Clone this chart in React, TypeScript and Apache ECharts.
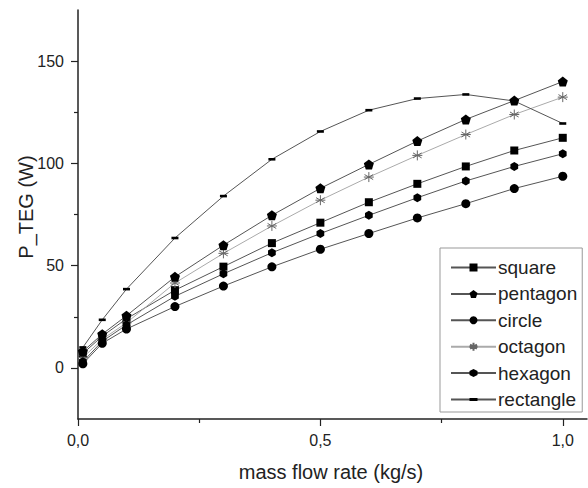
import React, { useEffect, useRef } from "react";
import * as echarts from "echarts";

const xValues = [0.01, 0.05, 0.1, 0.2, 0.3, 0.4, 0.5, 0.6, 0.7, 0.8, 0.9, 1.0];
const squareVals = [7, 15.5, 24, 38, 49.5, 61, 71, 81, 90, 98.5, 106.3, 112.5];
const pentagonVals = [8, 16.5, 25.5, 44.5, 60, 74.6, 87.8, 99.5, 110.9, 121.5, 130.7, 140];
const circleVals = [2, 12, 19, 30, 40, 49.4, 58, 65.7, 73.3, 80.3, 87.7, 93.7];
const octagonVals = [5, 14, 22, 41.5, 56, 69.4, 82, 93.3, 103.9, 114.1, 123.9, 132.4];
const hexagonVals = [3, 13, 21, 35, 46, 56.3, 65.7, 74.6, 83.2, 91.4, 98.5, 104.7];
const rectangleVals = [10, 23.5, 38.5, 63.5, 84, 102, 115.6, 126, 131.7, 133.7, 130.5, 119.5];

const xMajorTicks = [0, 0.5, 1.0];
const xMinorTicks = [0.25, 0.75];
const yMajorTicks = [0, 50, 100, 150];
const yMinorTicks = [25, 75, 125];

const FONT = "'Liberation Sans', Arial, sans-serif";
const TXT = "#222";
const LINE = "#555";

const PENTAGON = "path://M5 0L10 3.8L8.1 10L1.9 10L0 3.8Z";
const HEXAGON = "path://M5 0L9.3 2.5L9.3 7.5L5 10L0.7 7.5L0.7 2.5Z";
const ASTERISK = "path://M5 0L5 10M0.7 2.5L9.3 7.5M9.3 2.5L0.7 7.5M0 5L10 5";
const DASH = "path://M0 -2.2M0 0L7 0L7 2.6L0 2.6ZM7 4.8";

function pairs(vals: number[]) {
  return xValues.map((x, i) => [x, vals[i]]);
}

export default function App() {
  const ref = useRef<HTMLDivElement>(null);
  useEffect(() => {
    if (!ref.current) return;
    const chart = echarts.init(ref.current, null, { renderer: "svg" });
    const lineBase = (name: string, vals: number[], symbol: string, size: any, extra: any = {}) => ({
      name,
      type: "line",
      data: pairs(vals),
      symbol,
      symbolSize: size,
      symbolKeepAspect: true,
      lineStyle: { color: LINE, width: 1 },
      itemStyle: { color: "#000" },
      z: 2,
      ...extra,
    });
    const hiddenLine = { show: true, onZero: false, lineStyle: { color: "rgba(0,0,0,0)", width: 0 } };
    const option: any = {
      animation: false,
      backgroundColor: "#fff",
      grid: { left: 78, right: 1, top: 10, bottom: 69 },
      xAxis: [
        {
          type: "value",
          min: 0,
          max: 1.05,
          interval: 0.25,
          axisLine: { show: true, onZero: false, lineStyle: { color: TXT, width: 1.5 } },
          axisTick: { show: true, length: 7, customValues: xMajorTicks, lineStyle: { color: TXT, width: 1.2 } },
          axisLabel: {
            customValues: xMajorTicks,
            margin: 13,
            fontSize: 16,
            fontFamily: FONT,
            color: TXT,
            formatter: (v: number) => v.toFixed(1).replace(".", ","),
          },
          splitLine: { show: false },
        },
        {
          type: "value",
          min: 0,
          max: 1.05,
          interval: 0.25,
          position: "bottom",
          offset: 0,
          axisLine: hiddenLine,
          axisTick: { show: true, length: 4, customValues: xMinorTicks, lineStyle: { color: TXT, width: 1.2 } },
          axisLabel: { show: false },
          splitLine: { show: false },
        },
      ],
      yAxis: [
        {
          type: "value",
          min: -25,
          max: 175,
          interval: 25,
          axisLine: { show: true, onZero: false, lineStyle: { color: TXT, width: 1.5 } },
          axisTick: { show: true, length: 7, customValues: yMajorTicks, lineStyle: { color: TXT, width: 1.2 } },
          axisLabel: {
            customValues: yMajorTicks,
            margin: 14,
            fontSize: 16,
            fontFamily: FONT,
            color: TXT,
          },
          splitLine: { show: false },
        },
        {
          type: "value",
          min: -25,
          max: 175,
          interval: 25,
          position: "left",
          offset: 0,
          axisLine: hiddenLine,
          axisTick: { show: true, length: 4, customValues: yMinorTicks, lineStyle: { color: TXT, width: 1.2 } },
          axisLabel: { show: false },
          splitLine: { show: false },
        },
      ],
      legend: {
        orient: "vertical",
        left: 440,
        top: 248,
        padding: [10, 5, 3, 10],
        itemWidth: 45,
        itemHeight: 10,
        itemGap: 7.4,
        borderColor: "#999",
        borderWidth: 1,
        backgroundColor: "#fff",
        textStyle: { fontSize: 19, fontFamily: FONT, color: TXT, lineHeight: 19, padding: [0, 0, 0, -3] },
        data: ["square", "pentagon", "circle", "octagon", "hexagon", "rectangle"],
      },
      graphic: [
        {
          type: "text",
          x: 26,
          y: 207,
          rotation: Math.PI / 2,
          style: {
            text: "P_TEG (W)",
            fontSize: 20,
            fontFamily: FONT,
            fill: TXT,
            textAlign: "center",
            textVerticalAlign: "middle",
          },
        },
        {
          type: "text",
          x: 331,
          y: 472,
          style: {
            text: "mass flow rate (kg/s)",
            fontSize: 20,
            fontFamily: FONT,
            fill: TXT,
            textAlign: "center",
            textVerticalAlign: "middle",
          },
        },
      ],
      series: [
        lineBase("square", squareVals, "rect", 8),
        lineBase("pentagon", pentagonVals, PENTAGON, 10, { z: 4 }),
        lineBase("circle", circleVals, "circle", 9),
        lineBase("octagon", octagonVals, ASTERISK, 10, {
          lineStyle: { color: "#aaa", width: 1 },
          itemStyle: { color: "transparent", borderColor: "#666", borderWidth: 1 },
        }),
        lineBase("hexagon", hexagonVals, HEXAGON, 9),
        lineBase("rectangle", rectangleVals, DASH, 7, { z: 3 }),
      ],
    };
    chart.setOption(option);
    return () => chart.dispose();
  }, []);
  return <div ref={ref} style={{ width: 588, height: 488, position: "absolute", left: 0, top: 0 }} />;
}
